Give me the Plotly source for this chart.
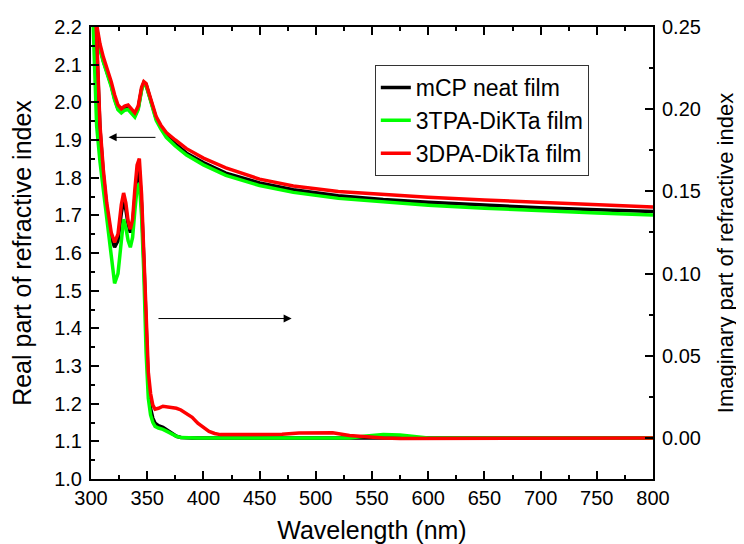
import plotly.graph_objects as go

# ---- data ----
series_names = ["mCP neat film", "3TPA-DiKTa film", "3DPA-DikTa film"]
series_colors = ["#000000", "#00ff00", "#ff0000"]

# Real part of refractive index (left axis)
wl_n = [300, 303, 306, 308, 311, 315, 318, 321, 324, 327, 330, 333, 336, 339, 342, 345,
        347, 349, 352, 355, 358, 362, 367, 375, 385, 400, 420, 450, 480, 520, 560, 600,
        650, 700, 750, 800]
n_mcp = [2.31, 2.23, 2.18, 2.145, 2.11, 2.077, 2.046, 2.01, 1.983, 1.975, 1.982, 1.985,
         1.975, 1.965, 1.985, 2.035, 2.052, 2.047, 2.017, 1.985, 1.957, 1.935, 1.913, 1.89,
         1.865, 1.84, 1.812, 1.786, 1.768, 1.752, 1.742, 1.735, 1.727, 1.72, 1.715, 1.71]
n_3tpa = [2.30, 2.225, 2.175, 2.14, 2.107, 2.072, 2.042, 2.006, 1.98, 1.972, 1.979, 1.981,
          1.971, 1.961, 1.981, 2.032, 2.05, 2.045, 2.015, 1.982, 1.952, 1.93, 1.907, 1.884,
          1.86, 1.834, 1.806, 1.779, 1.761, 1.745, 1.735, 1.727, 1.719, 1.712, 1.706, 1.701]
n_3dpa = [2.32, 2.24, 2.19, 2.155, 2.12, 2.085, 2.055, 2.02, 1.993, 1.983, 1.99, 1.993,
          1.982, 1.972, 1.99, 2.04, 2.055, 2.05, 2.02, 1.99, 1.962, 1.94, 1.92, 1.9,
          1.877, 1.852, 1.826, 1.796, 1.778, 1.763, 1.755, 1.748, 1.741, 1.735, 1.728, 1.722]

# Imaginary part of refractive index (right axis)
wl_k = [300, 302, 305, 308, 311, 314, 318, 321, 324, 327, 329, 331, 333, 335, 337, 339,
        341, 343, 345, 347, 349, 351, 353, 355, 357, 360, 364, 368, 372, 376, 380, 385,
        390, 395, 400, 405, 410, 415, 430, 450, 470, 485, 500, 515, 530, 545, 560, 575,
        590, 600, 650, 700, 750, 800]
k_mcp = [0.31, 0.285, 0.24, 0.188, 0.16, 0.14, 0.122, 0.116, 0.12, 0.137, 0.144, 0.139,
         0.13, 0.125, 0.13, 0.146, 0.159, 0.163, 0.142, 0.108, 0.062, 0.032, 0.018, 0.012,
         0.009, 0.0075, 0.0065, 0.0045, 0.0025, 0.001, 0.0003, 0.0, 0.0, 0.0, 0.0, 0.0,
         0.0, 0.0, 0.0, 0.0, 0.0, 0.0, 0.0, 0.0, 0.0, -0.0005, -0.0005, 0.0, 0.0, 0.0,
         0.0, 0.0, 0.0, 0.0]
k_3tpa = [0.29, 0.25, 0.19, 0.168, 0.15, 0.133, 0.108, 0.094, 0.1, 0.121, 0.133, 0.128,
          0.12, 0.116, 0.122, 0.138, 0.152, 0.155, 0.135, 0.1, 0.052, 0.024, 0.014, 0.0095,
          0.007, 0.006, 0.0052, 0.0038, 0.0022, 0.001, 0.0002, 0.0, 0.0, 0.0, 0.0, 0.0,
          0.0, 0.0, 0.0, 0.0, 0.0, 0.0, 0.0, 0.0, 0.0, 0.0012, 0.002, 0.0018, 0.001, 0.0,
          0.0, 0.0, 0.0, 0.0]
k_3dpa = [0.31, 0.285, 0.245, 0.19, 0.163, 0.143, 0.125, 0.119, 0.124, 0.142, 0.149, 0.143,
          0.132, 0.127, 0.133, 0.151, 0.166, 0.17, 0.148, 0.112, 0.068, 0.04, 0.027, 0.02,
          0.0175, 0.018, 0.0193, 0.019, 0.0185, 0.018, 0.017, 0.015, 0.0125, 0.009, 0.0065,
          0.004, 0.0027, 0.002, 0.002, 0.002, 0.0022, 0.003, 0.0033, 0.0032, 0.0015, 0.0005,
          0.0, -0.0003, -0.0003, 0.0, 0.0, 0.0, 0.0, 0.0]

n_series = [n_mcp, n_3tpa, n_3dpa]
k_series = [k_mcp, k_3tpa, k_3dpa]

# arrows (data coordinates: wavelength, real part)
arrow_left = dict(x_tail=358.7, x_head=315.7, y=1.907)
arrow_right = dict(x_tail=358.7, x_head=478.5, y=1.426)

FONT = "Liberation Sans, Arial, sans-serif"

fig = go.Figure()
for name, col, nv in zip(series_names, series_colors, n_series):
    fig.add_trace(go.Scatter(x=wl_n, y=nv, mode="lines", name=name,
                             line=dict(color=col, width=3.5), yaxis="y"))
for name, col, kv in zip(series_names, series_colors, k_series):
    fig.add_trace(go.Scatter(x=wl_k, y=kv, mode="lines", name=name,
                             showlegend=False, line=dict(color=col, width=3.5), yaxis="y2"))

for a in (arrow_left, arrow_right):
    fig.add_annotation(x=a["x_head"], y=a["y"], ax=a["x_tail"], ay=a["y"],
                       xref="x", yref="y", axref="x", ayref="y", text="",
                       showarrow=True, arrowhead=2, arrowsize=1.6, arrowwidth=1,
                       arrowcolor="black")

axis_common = dict(showline=True, linecolor="black", linewidth=2, ticks="inside",
                   tickcolor="black", tickwidth=1.5, showgrid=False, zeroline=False,
                   automargin=False,
                   tickfont=dict(family=FONT, size=20, color="black"))

# page body has an 8px margin, so the figure is sized/offset to compensate
fig.update_layout(
    width=736, height=536,
    margin=dict(l=83, r=91, t=19, b=65),
    paper_bgcolor="white", plot_bgcolor="white",
    font=dict(family=FONT, color="black"),
    xaxis=dict(range=[300, 800], dtick=50, ticklen=8, mirror="ticks",
               minor=dict(dtick=25, ticks="inside", ticklen=4, tickcolor="black", tickwidth=1.5),
               title=dict(text="Wavelength (nm)", font=dict(family=FONT, size=25), standoff=20),
               **axis_common),
    yaxis=dict(range=[1.0, 2.2], dtick=0.1, tickformat=".1f", ticklen=8,
               ticklabelstandoff=3,
               minor=dict(dtick=0.05, ticks="inside", ticklen=4, tickcolor="black", tickwidth=1.5),
               title=dict(text="Real part of refractive index", font=dict(family=FONT, size=25),
                          standoff=16),
               **axis_common),
    yaxis2=dict(range=[-0.025, 0.25], tickvals=[0, 0.05, 0.1, 0.15, 0.2, 0.25],
                tickformat=".2f", ticklen=8, overlaying="y", side="right",
                ticklabelstandoff=3,
                minor=dict(tickvals=[0.025, 0.075, 0.125, 0.175, 0.225], ticks="inside",
                           ticklen=4, tickcolor="black", tickwidth=1.5),
                title=dict(text="Imaginary part of refractive index",
                           font=dict(family=FONT, size=22), standoff=18),
                **axis_common),
    legend=dict(x=0.505, y=0.916, xanchor="left", yanchor="top", bgcolor="white",
                bordercolor="#333333", borderwidth=1, tracegroupgap=0,
                font=dict(family=FONT, size=23, color="black")),
    showlegend=True,
)

fig.write_html("out.html")
